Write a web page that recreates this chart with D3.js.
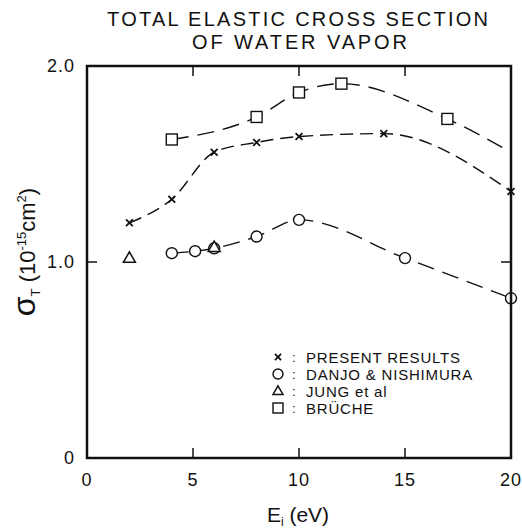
<!DOCTYPE html>
<html><head><meta charset="utf-8">
<script src="https://cdn.jsdelivr.net/npm/d3@7"></script>
<style>body{margin:0;background:#fff}svg{display:block}text{font-family:"Liberation Sans",Arial,sans-serif;fill:#111}</style>
</head><body>
<svg id="c" width="522" height="529"></svg>
<script>
// Data
const presentE = [2, 4, 6, 8, 10, 14, 20];
const presentS = [1.20, 1.32, 1.56, 1.61, 1.64, 1.655, 1.36];
const danjoE = [4, 5.1, 6, 8, 10, 15, 20];
const danjoS = [1.045, 1.055, 1.07, 1.13, 1.215, 1.02, 0.815];
const jungE = [2, 6];
const jungS = [1.02, 1.075];
const brucheE = [4, 8, 10, 12, 17, 20];
const brucheS = [1.625, 1.74, 1.865, 1.91, 1.73, 1.56];
const brucheMarked = [true, true, true, true, true, false];
const xTicks = [0, 5, 10, 15, 20];
const yTicks = [0, 1.0, 2.0];
const legendItems = ["PRESENT RESULTS", "DANJO & NISHIMURA", "JUNG et al", "BRÜCHE"];
const legendSymbols = ["cross", "circle", "triangle", "square"];

const svg = d3.select("#c");
const x = d3.scaleLinear().domain([0, 20]).range([87, 511]);
const y = d3.scaleLinear().domain([0, 2]).range([458, 66]);

// Title
svg.append("text").attr("x", 107).attr("y", 26).attr("textLength", 381).attr("lengthAdjust", "spacing")
  .style("font-size", "20px").text("TOTAL ELASTIC CROSS SECTION");
svg.append("text").attr("x", 192).attr("y", 49).attr("textLength", 215).attr("lengthAdjust", "spacing")
  .style("font-size", "20px").text("OF WATER VAPOR");

// Ticks (inward) on all four sides
const g = svg.append("g");
const tl = 10;
xTicks.filter(d => d > 0 && d < 20).forEach(d => {
  g.append("line").attr("x1", x(d)).attr("x2", x(d)).attr("y1", y(0)).attr("y2", y(0) - tl).attr("stroke", "#111").attr("stroke-width", 1.5);
  g.append("line").attr("x1", x(d)).attr("x2", x(d)).attr("y1", y(2)).attr("y2", y(2) + tl).attr("stroke", "#111").attr("stroke-width", 1.5);
});
yTicks.filter(d => d > 0 && d < 2).forEach(d => {
  g.append("line").attr("x1", x(0)).attr("x2", x(0) + tl).attr("y1", y(d)).attr("y2", y(d)).attr("stroke", "#111").attr("stroke-width", 1.5);
  g.append("line").attr("x1", x(20)).attr("x2", x(20) - tl).attr("y1", y(d)).attr("y2", y(d)).attr("stroke", "#111").attr("stroke-width", 1.5);
});

// Tick labels
xTicks.forEach(d => {
  svg.append("text").attr("x", x(d)).attr("y", 486).attr("text-anchor", "middle").style("font-size", "18px")
    .style("letter-spacing", "1px").text(String(d));
});
yTicks.forEach(d => {
  svg.append("text").attr("x", 75).attr("y", y(d) + 6).attr("text-anchor", "end").style("font-size", "18px")
    .style("letter-spacing", "1px").text(d === 0 ? "0" : d.toFixed(1));
});

// Axis titles
const xt = svg.append("text").attr("x", 298).attr("y", 522).attr("text-anchor", "middle").style("font-size", "21px");
xt.append("tspan").text("E");
xt.append("tspan").attr("dy", 4).style("font-size", "12px").text("i");
xt.append("tspan").attr("dy", -4).text(" (eV)");

const yt = svg.append("text").attr("transform", "translate(35,252) rotate(-90)").attr("text-anchor", "middle").style("font-size", "22px");
yt.append("tspan").style("font-size", "32px").text("σ");
yt.append("tspan").attr("dy", 5).style("font-size", "13px").text("T");
yt.append("tspan").attr("dy", -5).text(" (10");
yt.append("tspan").attr("dy", -9).style("font-size", "13px").text("-15");
yt.append("tspan").attr("dy", 9).text("cm");
yt.append("tspan").attr("dy", -9).style("font-size", "13px").text("2");
yt.append("tspan").attr("dy", 9).text(")");

// Lines
const line = d3.line().x(d => x(d[0])).y(d => y(d[1])).curve(d3.curveMonotoneX);
function drawLine(E, S, dash) {
  svg.append("path").datum(E.map((e, i) => [e, S[i]])).attr("d", line)
    .attr("fill", "none").attr("stroke", "#111").attr("stroke-width", 1.4).attr("stroke-dasharray", dash);
}
drawLine(brucheE, brucheS, "17,9");
drawLine(presentE, presentS, "13,7");
drawLine(danjoE, danjoS, "17,9");

// Markers
function marker(sel, type, cx, cy, s) {
  if (type === "cross") {
    const h = s * 0.38;
    sel.append("path").attr("d", `M${cx - h},${cy - h}L${cx + h},${cy + h}M${cx - h},${cy + h}L${cx + h},${cy - h}`)
      .attr("stroke", "#111").attr("stroke-width", 1.8).attr("fill", "none");
  } else if (type === "circle") {
    sel.append("circle").attr("cx", cx).attr("cy", cy).attr("r", s / 2).attr("fill", "#fff").attr("stroke", "#111").attr("stroke-width", 1.4);
  } else if (type === "square") {
    sel.append("rect").attr("x", cx - s / 2).attr("y", cy - s / 2).attr("width", s).attr("height", s).attr("fill", "#fff").attr("stroke", "#111").attr("stroke-width", 1.4);
  } else if (type === "triangle") {
    const h = s * 0.87;
    sel.append("path").attr("d", `M${cx},${cy - h * 0.6}L${cx + s / 2},${cy + h * 0.4}L${cx - s / 2},${cy + h * 0.4}Z`)
      .attr("fill", "#fff").attr("stroke", "#111").attr("stroke-width", 1.5);
  }
}
const m = svg.append("g");
brucheE.forEach((e, i) => { if (brucheMarked[i]) marker(m, "square", x(e), y(brucheS[i]), 11); });
presentE.forEach((e, i) => marker(m, "cross", x(e), y(presentS[i]), 9));
danjoE.forEach((e, i) => marker(m, "circle", x(e), y(danjoS[i]), 11));
jungE.forEach((e, i) => marker(m, "triangle", x(e), y(jungS[i]), 12));

// Legend
const lg = svg.append("g");
legendItems.forEach((t, i) => {
  const ly = 358 + i * 17;
  marker(lg, legendSymbols[i], 278, ly - 1, legendSymbols[i] === "cross" ? 8 : 10);
  lg.append("text").attr("x", 292).attr("y", ly + 4).style("font-size", "13px").text(":");
  lg.append("text").attr("x", 306).attr("y", ly + 5).style("font-size", "15px").style("letter-spacing", "0.8px").text(t);
});

// Frame
svg.append("rect").attr("x", x(0)).attr("y", y(2)).attr("width", x(20) - x(0)).attr("height", y(0) - y(2))
  .attr("fill", "none").attr("stroke", "#111").attr("stroke-width", 2.5);
</script>
</body></html>
